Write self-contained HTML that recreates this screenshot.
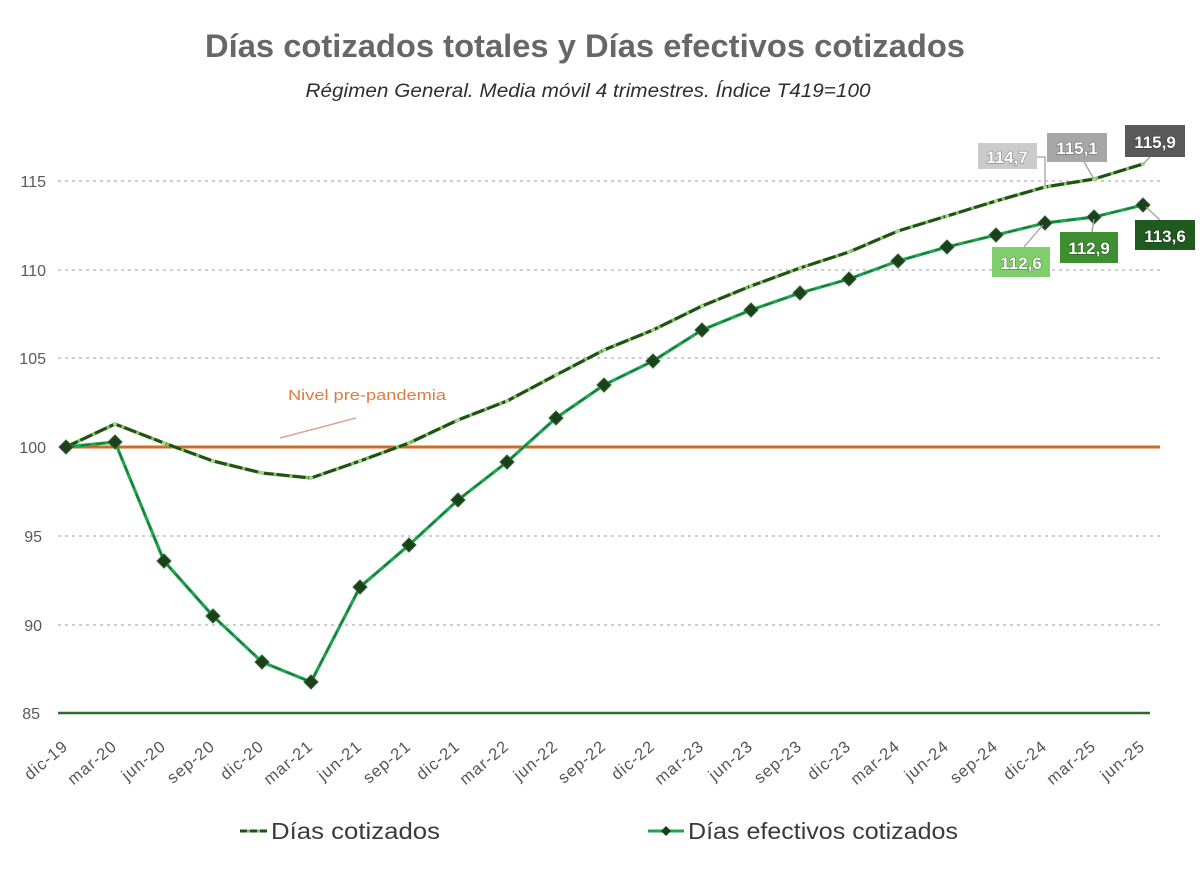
<!DOCTYPE html>
<html>
<head>
<meta charset="utf-8">
<style>
  html,body{margin:0;padding:0;background:#fff;}
  svg{display:block;}
  text{font-family:"Liberation Sans",sans-serif;}
</style>
</head>
<body>
<svg width="1200" height="869" viewBox="0 0 1200 869" xmlns="http://www.w3.org/2000/svg">
  <rect width="1200" height="869" fill="#fff"/>

  <!-- Title -->
  <text x="585" y="57" text-anchor="middle" font-size="32" font-weight="bold" fill="#676767" textLength="760" lengthAdjust="spacingAndGlyphs">Días cotizados totales y Días efectivos cotizados</text>
  <text x="588" y="97" text-anchor="middle" font-size="19" font-style="italic" fill="#2e2e2e" textLength="565" lengthAdjust="spacingAndGlyphs">Régimen General. Media móvil 4 trimestres. Índice T419=100</text>

  <!-- gridlines -->
  <g stroke="#bdbdbd" stroke-width="1.5" stroke-dasharray="3 4">
    <line x1="58" y1="181" x2="1160" y2="181"/>
    <line x1="58" y1="270" x2="1160" y2="270"/>
    <line x1="58" y1="358" x2="1160" y2="358"/>
    <line x1="58" y1="536" x2="1160" y2="536"/>
    <line x1="58" y1="625" x2="1160" y2="625"/>
  </g>

  <!-- y labels -->
  <g font-size="16" fill="#595959" text-anchor="end">
    <text x="46" y="187">115</text>
    <text x="46" y="276">110</text>
    <text x="46" y="364">105</text>
    <text x="46" y="453">100</text>
    <text x="42" y="542">95</text>
    <text x="42" y="631">90</text>
    <text x="40" y="719">85</text>
  </g>

  <!-- axis line -->
  <line x1="58" y1="713" x2="1150" y2="713" stroke="#2d6a2d" stroke-width="2.5"/>

  <!-- orange pre-pandemic line -->
  <line x1="62" y1="447" x2="1160" y2="447" stroke="#d06a27" stroke-width="3"/>
  <text x="288" y="400" font-family="Liberation Serif, serif" font-size="15" fill="#e07b45" textLength="158" lengthAdjust="spacingAndGlyphs">Nivel pre-pandemia</text>
  <line x1="280" y1="438" x2="356" y2="418" stroke="#dba593" stroke-width="1.5"/>

  <!-- Días cotizados -->
  <polyline fill="none" stroke="#7cc55a" stroke-width="3.5" stroke-linejoin="round"
    points="66,447 115,424 164,443 213,461 262,473 311,478 360,461 409,443 458,420 507,401 556,375 604,350 653,330 702,306 751,286 800,268 849,252 898,231 947,216 996,201 1045,187 1094,179 1143,164"/>
  <polyline fill="none" stroke="#244d1c" stroke-width="3" stroke-dasharray="13 3" stroke-linejoin="round"
    points="66,447 115,424 164,443 213,461 262,473 311,478 360,461 409,443 458,420 507,401 556,375 604,350 653,330 702,306 751,286 800,268 849,252 898,231 947,216 996,201 1045,187 1094,179 1143,164"/>
  <g fill="#a6d98a">
    <circle cx="115" cy="424" r="2"/><circle cx="164" cy="443" r="2"/><circle cx="213" cy="461" r="2"/>
    <circle cx="262" cy="473" r="2"/><circle cx="311" cy="478" r="2"/><circle cx="360" cy="461" r="2"/>
    <circle cx="409" cy="443" r="2"/><circle cx="458" cy="420" r="2"/><circle cx="507" cy="401" r="2"/>
    <circle cx="556" cy="375" r="2"/><circle cx="604" cy="350" r="2"/><circle cx="653" cy="330" r="2"/>
    <circle cx="702" cy="306" r="2"/><circle cx="751" cy="286" r="2"/><circle cx="800" cy="268" r="2"/>
    <circle cx="849" cy="252" r="2"/><circle cx="898" cy="231" r="2"/><circle cx="947" cy="216" r="2"/>
    <circle cx="996" cy="201" r="2"/><circle cx="1045" cy="187" r="2"/><circle cx="1094" cy="179" r="2"/>
    <circle cx="1143" cy="164" r="2"/>
  </g>

  <!-- Días efectivos cotizados -->
  <polyline fill="none" stroke="#1fa552" stroke-width="3.2" stroke-linejoin="round"
    points="66,447 115,442 164,561 213,616 262,662 311,682 360,587 409,545 458,500 507,462 556,418 604,385 653,361 702,330 751,310 800,293 849,279 898,261 947,247 996,235 1045,223 1094,217 1143,205"/>
  <polyline fill="none" stroke="#1d5a2a" stroke-width="1.4" stroke-dasharray="9 6" opacity="0.7"
    points="66,447 115,442 164,561 213,616 262,662 311,682 360,587 409,545 458,500 507,462 556,418 604,385 653,361 702,330 751,310 800,293 849,279 898,261 947,247 996,235 1045,223 1094,217 1143,205"/>
  <g fill="#1c3f1c" stroke="#2d6a2d" stroke-width="1">
    <path d="M66,440 L73,447 L66,454 L59,447 Z"/>
    <path d="M115,435 L122,442 L115,449 L108,442 Z"/>
    <path d="M164,554 L171,561 L164,568 L157,561 Z"/>
    <path d="M213,609 L220,616 L213,623 L206,616 Z"/>
    <path d="M262,655 L269,662 L262,669 L255,662 Z"/>
    <path d="M311,675 L318,682 L311,689 L304,682 Z"/>
    <path d="M360,580 L367,587 L360,594 L353,587 Z"/>
    <path d="M409,538 L416,545 L409,552 L402,545 Z"/>
    <path d="M458,493 L465,500 L458,507 L451,500 Z"/>
    <path d="M507,455 L514,462 L507,469 L500,462 Z"/>
    <path d="M556,411 L563,418 L556,425 L549,418 Z"/>
    <path d="M604,378 L611,385 L604,392 L597,385 Z"/>
    <path d="M653,354 L660,361 L653,368 L646,361 Z"/>
    <path d="M702,323 L709,330 L702,337 L695,330 Z"/>
    <path d="M751,303 L758,310 L751,317 L744,310 Z"/>
    <path d="M800,286 L807,293 L800,300 L793,293 Z"/>
    <path d="M849,272 L856,279 L849,286 L842,279 Z"/>
    <path d="M898,254 L905,261 L898,268 L891,261 Z"/>
    <path d="M947,240 L954,247 L947,254 L940,247 Z"/>
    <path d="M996,228 L1003,235 L996,242 L989,235 Z"/>
    <path d="M1045,216 L1052,223 L1045,230 L1038,223 Z"/>
    <path d="M1094,210 L1101,217 L1094,224 L1087,217 Z"/>
    <path d="M1143,198 L1150,205 L1143,212 L1136,205 Z"/>
  </g>

  <!-- leader lines -->
  <g stroke="#a0a0a0" stroke-width="1.3" fill="none">
    <polyline points="1037,157 1045,157 1045,186"/>
    <line x1="1084" y1="162" x2="1094" y2="179"/>
    <line x1="1150" y1="157" x2="1143" y2="164"/>
    <line x1="1043" y1="225" x2="1024" y2="247"/>
    <line x1="1094" y1="219" x2="1092" y2="232"/>
    <line x1="1146" y1="207" x2="1160" y2="220"/>
  </g>

  <!-- value boxes -->
  <g font-size="17" font-weight="bold" fill="#fff" text-anchor="middle" stroke="rgba(0,0,0,0.35)" stroke-width="1.2" paint-order="stroke">
    <rect x="978" y="143" width="59" height="26" fill="#cbcbcb" stroke="none"/>
    <text x="1007" y="163">114,7</text>
    <rect x="1047" y="133" width="60" height="29" fill="#a7a7a7" stroke="none"/>
    <text x="1077" y="154">115,1</text>
    <rect x="1125" y="125" width="60" height="32" fill="#595959" stroke="none"/>
    <text x="1155" y="148">115,9</text>

    <rect x="992" y="247" width="58" height="30" fill="#7fcf6c" stroke="none"/>
    <text x="1021" y="269">112,6</text>
    <rect x="1060" y="232" width="58" height="31" fill="#3d8f2f" stroke="none"/>
    <text x="1089" y="254">112,9</text>
    <rect x="1135" y="220" width="60" height="30" fill="#1f5a1f" stroke="none"/>
    <text x="1165" y="242">113,6</text>
  </g>

  <!-- x labels -->
  <g font-size="16.5" fill="#555" text-anchor="end" letter-spacing="1">
    <text transform="translate(69,748) rotate(-40)">dic-19</text>
    <text transform="translate(118,748) rotate(-40)">mar-20</text>
    <text transform="translate(167,748) rotate(-40)">jun-20</text>
    <text transform="translate(216,748) rotate(-40)">sep-20</text>
    <text transform="translate(265,748) rotate(-40)">dic-20</text>
    <text transform="translate(314,748) rotate(-40)">mar-21</text>
    <text transform="translate(363,748) rotate(-40)">jun-21</text>
    <text transform="translate(412,748) rotate(-40)">sep-21</text>
    <text transform="translate(461,748) rotate(-40)">dic-21</text>
    <text transform="translate(510,748) rotate(-40)">mar-22</text>
    <text transform="translate(559,748) rotate(-40)">jun-22</text>
    <text transform="translate(607,748) rotate(-40)">sep-22</text>
    <text transform="translate(656,748) rotate(-40)">dic-22</text>
    <text transform="translate(705,748) rotate(-40)">mar-23</text>
    <text transform="translate(754,748) rotate(-40)">jun-23</text>
    <text transform="translate(803,748) rotate(-40)">sep-23</text>
    <text transform="translate(852,748) rotate(-40)">dic-23</text>
    <text transform="translate(901,748) rotate(-40)">mar-24</text>
    <text transform="translate(950,748) rotate(-40)">jun-24</text>
    <text transform="translate(999,748) rotate(-40)">sep-24</text>
    <text transform="translate(1048,748) rotate(-40)">dic-24</text>
    <text transform="translate(1097,748) rotate(-40)">mar-25</text>
    <text transform="translate(1146,748) rotate(-40)">jun-25</text>
  </g>

  <!-- legend -->
  <line x1="240" y1="831" x2="267" y2="831" stroke="#7cc55a" stroke-width="3"/>
  <line x1="240" y1="831" x2="267" y2="831" stroke="#244d1c" stroke-width="3" stroke-dasharray="7 3"/>
  <text x="271" y="839" font-size="23" fill="#3a3a3a" textLength="169" lengthAdjust="spacingAndGlyphs">Días cotizados</text>

  <line x1="648" y1="831" x2="684" y2="831" stroke="#1fa552" stroke-width="3"/>
  <path d="M666,826 L671,831 L666,836 L661,831 Z" fill="#1c3f1c"/>
  <text x="688" y="839" font-size="23" fill="#3a3a3a" textLength="270" lengthAdjust="spacingAndGlyphs">Días efectivos cotizados</text>
</svg>
</body>
</html>
